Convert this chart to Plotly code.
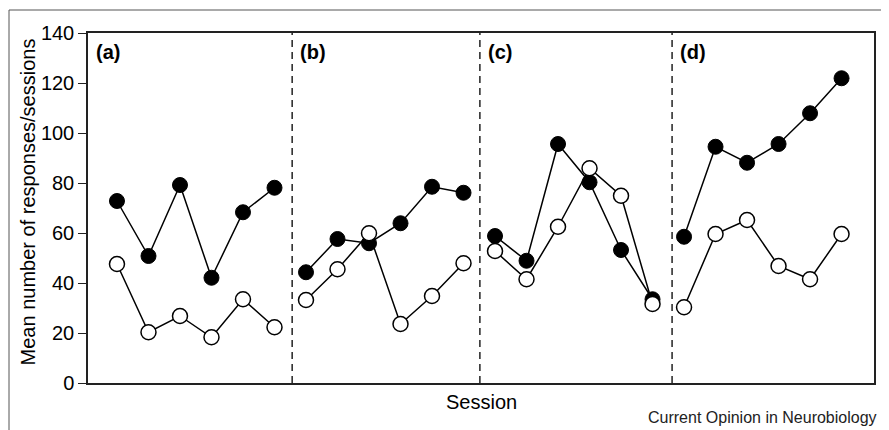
import plotly.graph_objects as go

panels = ["(a)", "(b)", "(c)", "(d)"]
sessions = [[1, 2, 3, 4, 5, 6], [7, 8, 9, 10, 11, 12],
            [13, 14, 15, 16, 17, 18], [19, 20, 21, 22, 23, 24]]
filled = [[72.8, 50.8, 79.2, 42.1, 68.3, 78.1],
          [44.3, 57.6, 55.9, 63.9, 78.5, 76.1],
          [58.8, 48.9, 95.6, 80.3, 53.2, 33.5],
          [58.5, 94.5, 88.1, 95.6, 107.9, 121.9]]
open_ = [[47.6, 20.3, 26.8, 18.3, 33.5, 22.3],
         [33.2, 45.5, 59.9, 23.6, 34.8, 47.9],
         [52.8, 41.5, 62.5, 85.9, 74.9, 31.6],
         [30.3, 59.6, 65.2, 46.8, 41.5, 59.6]]
dividers = [0.08, 6.56, 12.52, 18.62]
yticks = [0, 20, 40, 60, 80, 100, 120, 140]

FONT = "Liberation Sans, Arial, sans-serif"
fig = go.Figure()

for i in range(4):
    fig.add_trace(go.Scatter(
        x=sessions[i], y=filled[i], mode="lines+markers",
        line=dict(color="black", width=1.5),
        marker=dict(size=15, color="black", line=dict(color="black", width=1)),
        showlegend=False, hoverinfo="skip"))
for i in range(4):
    fig.add_trace(go.Scatter(
        x=sessions[i], y=open_[i], mode="lines+markers",
        line=dict(color="black", width=1.5),
        marker=dict(size=15, color="white", line=dict(color="black", width=1.5)),
        showlegend=False, hoverinfo="skip"))

shapes = []
for d in dividers[1:]:
    shapes.append(dict(type="line", xref="x", yref="y", x0=d, x1=d, y0=0, y1=140,
                       line=dict(color="black", width=1.3, dash="7px,5px"), layer="below"))
# outer figure border
shapes.append(dict(type="rect", xref="paper", yref="paper",
                   x0=-0.1005, x1=1.014, y0=-0.2, y1=1.0657,
                   line=dict(color="#555555", width=1)))

annotations = []
for d, lab in zip(dividers, panels):
    annotations.append(dict(x=d, y=132.4, xref="x", yref="y", text="<b>%s</b>" % lab,
                            showarrow=False, xanchor="left", yanchor="middle", xshift=6,
                            font=dict(family=FONT, size=20, color="black")))
annotations.append(dict(x=0.5, y=-0.054, xref="paper", yref="paper", text="Session",
                        showarrow=False, xanchor="center", yanchor="middle",
                        font=dict(family=FONT, size=20, color="black")))
annotations.append(dict(x=-0.0763, y=0.516, xref="paper", yref="paper",
                        text="Mean number of responses/sessions", textangle=-90,
                        showarrow=False, xanchor="center", yanchor="middle",
                        font=dict(family=FONT, size=20, color="black")))
annotations.append(dict(x=1.0064, y=-0.098, xref="paper", yref="paper",
                        text="Current Opinion in Neurobiology",
                        showarrow=False, xanchor="right", yanchor="middle",
                        font=dict(family=FONT, size=16, color="#222222")))

# page body has an 8px margin, so the figure is sized/offset to compensate
fig.update_layout(
    width=881, height=422,
    margin=dict(l=80, r=15, t=25, b=47),
    paper_bgcolor="white", plot_bgcolor="white",
    shapes=shapes, annotations=annotations,
    xaxis=dict(range=[0.08, 25.03], showgrid=False, zeroline=False,
               showticklabels=False, ticks="", showline=True, mirror=True,
               linecolor="#222222", linewidth=1.5),
    yaxis=dict(range=[0, 140], tickvals=yticks, showgrid=False, zeroline=False,
               ticks="outside", ticklen=8, tickwidth=1.3, tickcolor="#222222",
               showline=True, mirror=True, linecolor="#222222", linewidth=1.5,
               tickfont=dict(family=FONT, size=20, color="black")),
)

fig.write_html("out.html")
